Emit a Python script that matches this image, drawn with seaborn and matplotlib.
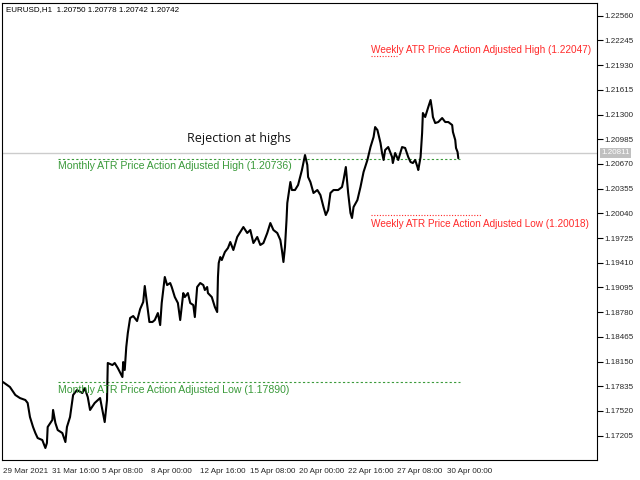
import matplotlib
matplotlib.use("Agg")
import pandas as pd
import seaborn as sns
from matplotlib import pyplot as plt

# hourly bar index (0 = 29 Mar 2021 00:00) and price
bars = [0, 9, 16, 22, 29, 32, 35, 39, 42, 45, 51, 55, 57, 58, 64, 65, 68, 71, 77, 81,
        83, 87, 91, 96, 103, 106, 110, 113, 119, 126, 129, 132, 135, 136, 142, 145, 149, 155, 156, 158,
        160, 162, 165, 169, 174, 178, 182, 184, 187, 190, 194, 197, 201, 204, 206, 208, 210, 213, 217, 219,
        223, 227, 230, 234, 236, 240, 243, 247, 249, 252, 256, 260, 262, 265, 266, 271, 275, 278, 279, 280,
        282, 284, 288, 292, 295, 299, 304, 308, 312, 317, 321, 325, 330, 334, 338, 343, 347, 351, 356, 360,
        362, 364, 366, 368, 369, 373, 375, 379, 383, 388, 392, 395, 396, 399, 403, 408, 412, 416, 419, 422,
        425, 429, 435, 440, 442, 445, 448, 451, 453, 455, 460, 464, 468, 473, 477, 481, 483, 486, 490, 492,
        494, 496, 500, 505, 506, 509, 513, 518, 522, 526, 529, 532, 535, 538, 539, 542, 544, 545, 548, 552,
        555, 557, 558, 561, 565, 570, 574, 578, 583, 584, 587, 588, 590, 591]
prices = [1.17888, 1.17825, 1.17723, 1.17684, 1.17659, 1.17621, 1.17442, 1.17315, 1.17238, 1.17174,
          1.17149, 1.17047, 1.17111, 1.17315, 1.17404, 1.17532, 1.17366, 1.17276, 1.17238, 1.17123,
          1.17315, 1.17442, 1.17723, 1.17786, 1.17748, 1.17812, 1.17697, 1.17532, 1.17621, 1.17684,
          1.17532, 1.17378, 1.17659, 1.18131, 1.18105, 1.18131, 1.18067, 1.17952, 1.18143, 1.18042,
          1.18335, 1.18513, 1.18705, 1.18730, 1.18666, 1.18819, 1.18909, 1.19113, 1.18883, 1.18654,
          1.18654, 1.18679, 1.18768, 1.18615, 1.18896, 1.19062, 1.19228, 1.19125, 1.19151, 1.19100,
          1.18972, 1.18896, 1.18679, 1.19023, 1.18972, 1.19023, 1.18896, 1.18870, 1.18717, 1.19100,
          1.19151, 1.19125, 1.19062, 1.19100, 1.19023, 1.18972, 1.18845, 1.18781, 1.19228, 1.19406,
          1.19482, 1.19444, 1.19546, 1.19597, 1.19674, 1.19572, 1.19738, 1.19801, 1.19865, 1.19789,
          1.19827, 1.19661, 1.19738, 1.19636, 1.19661, 1.19789, 1.19916, 1.19827, 1.19789, 1.19699,
          1.19572, 1.19419, 1.19610, 1.19954, 1.20171, 1.20439, 1.20337, 1.20337, 1.20401, 1.20592,
          1.20783, 1.20656, 1.20503, 1.20439, 1.20299, 1.20337, 1.20273, 1.20120, 1.20018, 1.20082,
          1.20299, 1.20337, 1.20337, 1.20375, 1.20464, 1.20630, 1.20299, 1.20044, 1.19980, 1.20120,
          1.20209, 1.20375, 1.20567, 1.20720, 1.20885, 1.21013, 1.21140, 1.21102, 1.20936, 1.20809,
          1.20720, 1.20847, 1.20885, 1.20758, 1.20681, 1.20809, 1.20720, 1.20885, 1.20873, 1.20758,
          1.20694, 1.20681, 1.20720, 1.20630, 1.20592, 1.20758, 1.21064, 1.21319, 1.21268, 1.21395,
          1.21485, 1.21357, 1.21268, 1.21191, 1.21204, 1.21255, 1.21204, 1.21204, 1.21166, 1.21077,
          1.20975, 1.20873, 1.20822, 1.20742]

# axis ticks
y_ticks = [1.17205, 1.17520, 1.17835, 1.18150, 1.18465, 1.18780, 1.19095, 1.19410, 1.19725,
           1.20040, 1.20355, 1.20670, 1.20985, 1.21300, 1.21615, 1.21930, 1.22245, 1.22560]
x_ticks = [0, 64, 128, 192, 256, 320, 384, 448, 512, 576]
x_labels = ['29 Mar 2021', '31 Mar 16:00', '5 Apr 08:00', '8 Apr 00:00', '12 Apr 16:00',
            '15 Apr 08:00', '20 Apr 00:00', '22 Apr 16:00', '27 Apr 08:00', '30 Apr 00:00']

# ATR levels
monthly_high = 1.20736
monthly_low = 1.17890
weekly_high = 1.22047
weekly_low = 1.20018
bid = 1.20811

GREEN = '#3a9a3a'
RED = '#ff2a2a'

sns.set_style('white')
plt.rcParams['font.family'] = ['Liberation Sans', 'DejaVu Sans']

df = pd.DataFrame({'bar': bars, 'price': prices})

fig = plt.figure(figsize=(6.4, 4.8), dpi=100)
ax = fig.add_axes([2 / 640, 20 / 480, 595 / 640, 457 / 480])

ax.axhline(bid, color='#cccccc', lw=1, zorder=1)
sns.lineplot(data=df, x='bar', y='price', color='black', lw=1.5, ax=ax, zorder=3)

ax.hlines(monthly_high, 72, 593, colors=GREEN, linestyles=(0, (2, 2)), lw=0.8)
ax.hlines(monthly_low, 72, 593, colors=GREEN, linestyles=(0, (2, 2)), lw=0.8)
ax.hlines(weekly_high, 478, 512, colors=RED, linestyles=(0, (1, 1.5)), lw=0.8)
ax.hlines(weekly_low, 478, 622, colors=RED, linestyles=(0, (1, 1.5)), lw=0.8)

ax.text(72, 1.20643, f'Monthly ATR Price Action Adjusted High ({monthly_high:.5f})',
        color=GREEN, fontsize=7.6, va='center', ha='left')
ax.text(72, 1.17786, f'Monthly ATR Price Action Adjusted Low ({monthly_low:.5f})',
        color=GREEN, fontsize=7.6, va='center', ha='left')
ax.text(478, 1.22122, f'Weekly ATR Price Action Adjusted High ({weekly_high:.5f})',
        color=RED, fontsize=7.2, va='center', ha='left')
ax.text(478, 1.19903, f'Weekly ATR Price Action Adjusted Low ({weekly_low:.5f})',
        color=RED, fontsize=7.2, va='center', ha='left')
ax.text(306, 1.21000, 'Rejection at highs', fontsize=9, family='Open Sans', color='#111111',
        ha='center', va='center')

ax.text(0.006, 0.993, 'EURUSD,H1  1.20750 1.20778 1.20742 1.20742', transform=ax.transAxes,
        fontsize=5.8, ha='left', va='top', color='black')

ax.set_xlim(-1.3, 771)
ax.set_ylim(1.16894, 1.22722)
ax.set_xlabel('')
ax.set_ylabel('')

ax.yaxis.tick_right()
ax.set_yticks(y_ticks)
ax.set_yticklabels([f'{v:.5f}' for v in y_ticks])
ax.set_xticks(x_ticks)
ax.set_xticklabels(x_labels, ha='left')
ax.tick_params(axis='both', labelsize=5.8, length=4, width=0.8, direction='out', color='black',
               pad=1.5)

# current bid label on the price scale
ax.annotate(f'{bid:.5f}', xy=(1.0, bid), xycoords=('axes fraction', 'data'),
            xytext=(3, 0), textcoords='offset points', fontsize=5.8, color='white',
            va='center', ha='left',
            bbox=dict(boxstyle='square,pad=0.15', fc='#c0c0c0', ec='none'))

for s in ax.spines.values():
    s.set_color('black')
    s.set_linewidth(0.8)

fig.savefig('out.png', dpi=100)
